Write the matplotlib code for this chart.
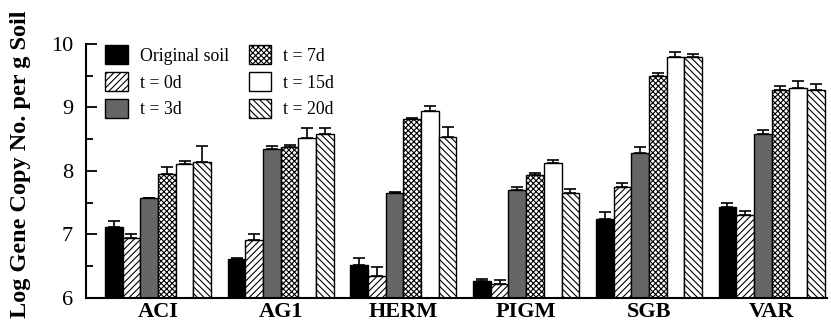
import numpy as np
import matplotlib
matplotlib.use('Agg')
import matplotlib.pyplot as plt

plt.rcParams['font.family'] = ['Liberation Serif', 'DejaVu Serif']
plt.rcParams['hatch.linewidth'] = 0.8

# datos
sites = ['ACI', 'AG1', 'HERM', 'PIGM', 'SGB', 'VAR']
series = ['Original soil', 't = 0d', 't = 3d', 't = 7d', 't = 15d', 't = 20d']

original = [7.11, 6.61, 6.52, 6.27, 7.24, 7.44]
t0 = [6.95, 6.92, 6.35, 6.22, 7.74, 7.31]
t3 = [7.57, 8.35, 7.66, 7.70, 8.29, 8.59]
t7 = [7.95, 8.38, 8.82, 7.93, 9.49, 9.27]
t15 = [8.11, 8.52, 8.94, 8.13, 9.80, 9.31]
t20 = [8.14, 8.58, 8.54, 7.65, 9.80, 9.27]

err_original = [0.10, 0.02, 0.11, 0.03, 0.12, 0.05]
err_t0 = [0.05, 0.08, 0.13, 0.06, 0.07, 0.06]
err_t3 = [0.01, 0.04, 0.01, 0.04, 0.09, 0.06]
err_t7 = [0.12, 0.03, 0.01, 0.04, 0.05, 0.07]
err_t15 = [0.05, 0.15, 0.08, 0.05, 0.07, 0.10]
err_t20 = [0.25, 0.10, 0.16, 0.06, 0.04, 0.10]

values = [original, t0, t3, t7, t15, t20]
errors = [err_original, err_t0, err_t3, err_t7, err_t15, err_t20]
colors = ['black', 'white', '#666666', 'white', 'white', 'white']
hatches = [None, '/////', None, 'xxxxxx', None, '\\\\\\\\\\']

fig = plt.figure(figsize=(8.31, 3.26), dpi=100)
ax = fig.add_axes([0.103, 0.086, 0.892, 0.779])

x = np.arange(len(sites))
w = 0.144
for i in range(len(series)):
    pos = x + (i - 2.5) * w
    ax.bar(pos, np.array(values[i]) - 6, w, bottom=6, color=colors[i],
           edgecolor='black', linewidth=1.0, hatch=hatches[i], label=series[i],
           yerr=[np.zeros(len(sites)), errors[i]], capsize=4,
           error_kw=dict(elinewidth=1.2, capthick=1.2, ecolor='black'))

ax.set_ylim(6, 10)
ax.set_xlim(-0.59, 5.45)
ax.set_yticks([6, 7, 8, 9, 10])
ax.set_yticks([6.5, 7.5, 8.5, 9.5], minor=True)
ax.tick_params(axis='y', direction='in', length=8, width=1.3, labelsize=16, pad=9)
ax.tick_params(axis='y', which='minor', direction='in', length=5, width=1.3)
ax.set_xticks(x)
ax.set_xticklabels(sites, fontweight='bold', fontsize=16)
ax.tick_params(axis='x', length=0, pad=3)
ax.spines['top'].set_visible(False)
ax.spines['right'].set_visible(False)
ax.spines['left'].set_linewidth(1.5)
ax.spines['bottom'].set_linewidth(1.5)
ax.set_ylabel('Log Gene Copy No. per g Soil', fontweight='bold', fontsize=17.5)
ax.yaxis.set_label_coords(-0.073, 0.525)

ax.legend(ncol=2, loc='upper left', bbox_to_anchor=(0.005, 1.058), frameon=False,
          fontsize=12.8, handlelength=1.25, handleheight=1.25, columnspacing=1.1,
          labelspacing=0.42, handletextpad=0.7)

plt.savefig('out.png', dpi=100)
